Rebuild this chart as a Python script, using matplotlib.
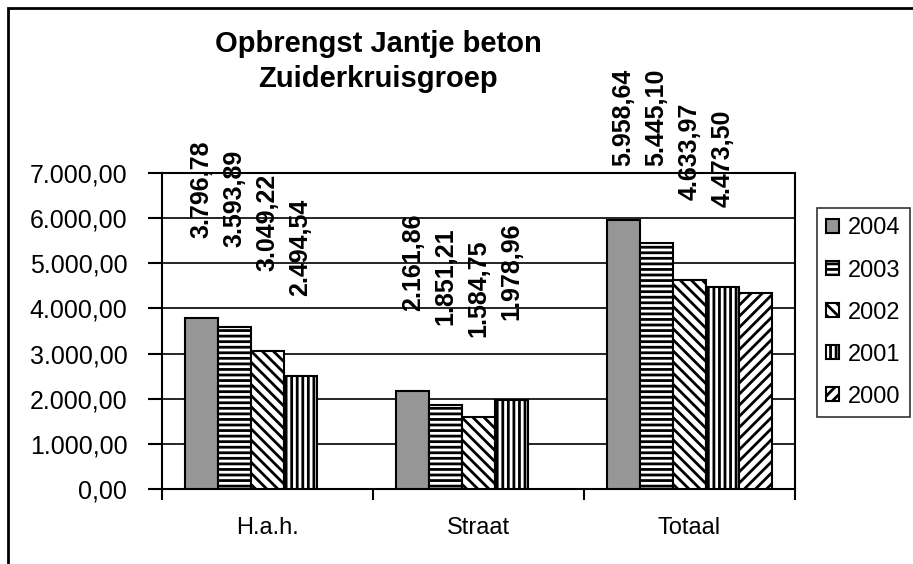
import numpy as np
import matplotlib
matplotlib.use("Agg")
import matplotlib.pyplot as plt
from matplotlib.ticker import FuncFormatter, FixedLocator
from matplotlib.patches import Rectangle

plt.rcParams['font.family'] = ['Liberation Sans', 'DejaVu Sans']
plt.rcParams['hatch.linewidth'] = 2.0

title = "Opbrengst Jantje beton\nZuiderkruisgroep"
categories = ["H.a.h.", "Straat", "Totaal"]
series_names = ["2004", "2003", "2002", "2001", "2000"]
values_2004 = [3796.78, 2161.86, 5958.64]
values_2003 = [3593.89, 1851.21, 5445.10]
values_2002 = [3049.22, 1584.75, 4633.97]
values_2001 = [2494.54, 1978.96, 4473.50]
values_2000 = [np.nan, np.nan, 4350.0]
show_label_2000 = False
y_ticks = [0, 1000, 2000, 3000, 4000, 5000, 6000, 7000]

series_values = [values_2004, values_2003, values_2002, values_2001, values_2000]
facecolors = ["#969696", "white", "white", "white", "white"]
hatches = [None, "---", "\\\\\\", "|||", "///"]


def nl_fmt(v):
    s = f"{v:,.2f}"
    return s.replace(",", "X").replace(".", ",").replace("X", ".")


W, H = 913, 564
fig = plt.figure(figsize=(W / 100, H / 100), dpi=100)
left, right, top, bottom = 162, 795, 173, 489
ax = fig.add_axes([left / W, 1 - bottom / H, (right - left) / W, (bottom - top) / H])
ax.set_ylim(0, 7000)
ax.set_xlim(-0.5, 2.5)

x = np.arange(len(categories))
bw = 0.156
label_len_px = 98
min_top_px = 68   # label tops stay below this distance from figure top
for i, (name, vals) in enumerate(zip(series_names, series_values)):
    pos = x + (i - 2) * bw
    ax.bar(pos, vals, width=bw, color=facecolors[i], edgecolor="black",
           linewidth=1.5, hatch=hatches[i], label=name, zorder=3)
    for xp, v in zip(pos, vals):
        if np.isnan(v):
            continue
        if i == 4 and not show_label_2000:
            continue
        bar_top_px = H - ax.transData.transform((xp, v))[1]
        off = min(80, bar_top_px - min_top_px - label_len_px)
        ax.annotate(nl_fmt(v), (xp, v), xytext=(0, off), textcoords="offset pixels",
                    rotation=90, ha="center", va="bottom", fontsize=18,
                    fontweight="bold", annotation_clip=False, zorder=5)

ax.set_yticks(y_ticks)
ax.yaxis.set_major_formatter(FuncFormatter(lambda v, p: nl_fmt(v)))
ax.yaxis.grid(True, color="black", linewidth=1.2, zorder=0)
ax.set_axisbelow(True)
ax.set_xticks(x)
ax.set_xticklabels(categories)
ax.xaxis.set_minor_locator(FixedLocator([-0.5, 0.5, 1.5, 2.5]))
ax.tick_params(axis="x", which="major", length=0, pad=20, labelsize=17)
ax.tick_params(axis="x", which="minor", length=8, width=1.5, direction="out")
ax.tick_params(axis="y", which="major", length=10, width=1.5, direction="out",
               pad=15, labelsize=18)
for sp in ax.spines.values():
    sp.set_linewidth(1.5)
    sp.set_color("black")

fig.text(378 / W, 1 - 30 / H, title, ha="center", va="top", fontsize=21,
         fontweight="bold", linespacing=1.3)

leg = fig.legend(loc="upper left", bbox_to_anchor=(817 / W, 1 - 208 / H),
                 fontsize=17, frameon=True, fancybox=False, shadow=False,
                 handlelength=0.55, handleheight=0.55, handletextpad=0.35,
                 labelspacing=0.85, borderpad=0.4, borderaxespad=0)
leg.get_frame().set_edgecolor("black")
leg.get_frame().set_linewidth(1.2)

fig.patches.append(Rectangle((8 / W, -0.2), 1.2, 1.2 - 8 / H, transform=fig.transFigure,
                             fill=False, edgecolor="black", linewidth=2))

fig.savefig("out.png", dpi=100)
